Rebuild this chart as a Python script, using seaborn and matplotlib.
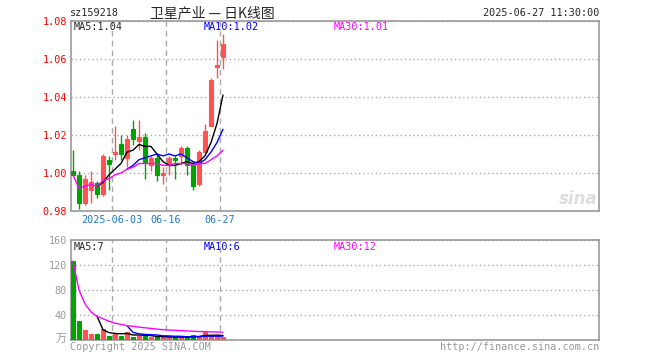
import numpy as np
import matplotlib
matplotlib.use("Agg")
import matplotlib.pyplot as plt
import seaborn as sns

sns.set_style("white")
plt.rcParams["font.family"] = ["DejaVu Sans Mono", "Noto Sans CJK SC"]

# ---------------------------------------------------------------
# datos (26 sesiones, 2025-05-22 .. 2025-06-27)
# ---------------------------------------------------------------
opens = [1.001, 0.999, 0.984, 0.991, 0.995, 0.989, 1.007, 1.010, 1.015, 1.008,
         1.023, 1.017, 1.019, 1.004, 1.008, 0.999, 1.004, 1.008, 1.009, 1.013,
         1.004, 0.994, 1.011, 1.025, 1.056, 1.061]
highs = [1.012, 1.001, 0.999, 1.001, 0.996, 1.010, 1.009, 1.025, 1.020, 1.020,
         1.028, 1.028, 1.021, 1.009, 1.010, 1.003, 1.009, 1.009, 1.014, 1.014,
         1.006, 1.012, 1.026, 1.050, 1.070, 1.073]
lows = [0.999, 0.981, 0.983, 0.984, 0.987, 0.988, 0.991, 1.007, 1.007, 1.003,
        1.015, 1.012, 0.997, 1.001, 0.996, 0.994, 0.999, 0.997, 1.004, 0.999,
        0.991, 0.993, 1.011, 1.025, 1.050, 1.055]
closes = [0.999, 0.984, 0.997, 0.995, 0.989, 1.009, 1.005, 1.011, 1.010, 1.018,
          1.018, 1.019, 1.006, 1.008, 0.999, 1.000, 1.008, 1.007, 1.013, 1.004,
          0.993, 1.011, 1.022, 1.049, 1.057, 1.068]

nan = np.nan
ma5 = [nan, nan, nan, nan, 0.993, 0.995, 0.999, 1.002, 1.005, 1.011, 1.012, 1.015,
       1.014, 1.014, 1.010, 1.006, 1.004, 1.004, 1.005, 1.006, 1.005, 1.006, 1.009,
       1.016, 1.026, 1.041]
ma10 = [nan, nan, nan, nan, nan, nan, nan, nan, nan, 1.002, 1.004, 1.007, 1.008,
        1.009, 1.010, 1.009, 1.010, 1.009, 1.010, 1.008, 1.006, 1.005, 1.007, 1.011,
        1.016, 1.023]
ma30 = [0.999, 0.992, 0.993, 0.994, 0.993, 0.996, 0.997, 0.999, 1.000, 1.002, 1.003,
        1.005, 1.005, 1.005, 1.005, 1.004, 1.004, 1.005, 1.005, 1.005, 1.004, 1.005,
        1.005, 1.007, 1.009, 1.012]

volumes = [126, 30, 16, 9.5, 9.5, 17.5, 6.5, 9.5, 6.5, 12.5, 5, 6.5, 6.5, 5, 4.5,
           4.5, 4.5, 4.5, 5, 4.5, 8, 6, 13, 6, 6, 5]
vma5 = [nan, nan, nan, nan, 38.2, 16.5, 11.8, 10.5, 9.9, 10.5, 8.0, 8.0, 7.4, 7.1,
        5.5, 5.4, 5.0, 4.6, 4.6, 4.6, 5.3, 5.6, 7.3, 7.5, 7.8, 7.2]
vma10 = [nan, nan, nan, nan, nan, nan, nan, nan, nan, 23.0, 12.2, 9.9, 9.0, 8.5,
         8.0, 6.7, 6.5, 6.0, 5.9, 5.1, 5.4, 5.3, 6.0, 6.1, 6.2, 6.3]
vma30 = [126, 80, 58, 45, 38, 34, 30, 27, 25, 23, 22, 20.5, 19.5, 18.5, 17.5, 16.5,
         16, 15.5, 15, 14.5, 14, 13.5, 13.5, 13, 12.8, 12.5]

date_pos = [6.5, 15.5, 24.5]
date_labels = ["2025-06-03", "06-16", "06-27"]
price_ticks = [0.98, 1.00, 1.02, 1.04, 1.06, 1.08]
vol_ticks = [40, 80, 120, 160]

RED = "#ff5252"
GREEN = "#00a300"
GRID = "#aaaaaa"
FS = 7.3

W, H = 660, 360


def box(l, t, r, b):
    return [l / W, 1 - b / H, (r - l) / W, (b - t) / H]


fig = plt.figure(figsize=(W / 100, H / 100), dpi=100)
ax = fig.add_axes(box(71, 21, 599, 211))
axv = fig.add_axes(box(71, 240, 599, 340))

x = np.arange(len(closes))
o = np.array(opens)
c = np.array(closes)
up = c >= o
colors = [RED if u else GREEN for u in up]

# --- velas ---
ax.vlines(x, lows, highs, colors=colors, linewidth=1, zorder=3)
ax.bar(x, np.maximum(np.abs(c - o), 0.0007), bottom=np.minimum(o, c), width=0.72,
       color=colors, edgecolor=colors, linewidth=0.8, zorder=4)
sns.lineplot(x=x, y=ma5, color="black", linewidth=1, ax=ax, zorder=5)
sns.lineplot(x=x, y=ma10, color="#0000ff", linewidth=1, ax=ax, zorder=5)
sns.lineplot(x=x, y=ma30, color="#ff00ff", linewidth=1, ax=ax, zorder=5)

# --- volumen ---
sns.barplot(x=x, y=volumes, hue=["up" if u else "down" for u in up],
            palette={"up": RED, "down": GREEN}, dodge=False, native_scale=True,
            width=0.72, saturation=1, legend=False, linewidth=0.8, ax=axv, zorder=3)
for p in axv.patches:
    p.set_edgecolor(p.get_facecolor())
sns.lineplot(x=x, y=vma5, color="black", linewidth=1, ax=axv, zorder=5)
sns.lineplot(x=x, y=vma10, color="#0000ff", linewidth=1, ax=axv, zorder=5)
sns.lineplot(x=x, y=vma30, color="#ff00ff", linewidth=1, ax=axv, zorder=5)

for a in (ax, axv):
    a.set_xlim(-0.33, 87.67)
    a.set_xticks(date_pos)
    a.grid(axis="x", color=GRID, linestyle=(0, (4, 3)), linewidth=1)
    a.grid(axis="y", color=GRID, linestyle=(0, (1, 2)), linewidth=1)
    a.set_axisbelow(True)
    a.set_xlabel("")
    a.set_ylabel("")
    for s in a.spines.values():
        s.set_color("#999999")
        s.set_linewidth(1.2)

ax.set_ylim(0.98, 1.08)
ax.set_yticks(price_ticks)
ax.set_yticklabels([f"{t:.2f}" for t in price_ticks], color="red", fontsize=FS)
ax.set_xticklabels(date_labels, color="#2277cc", fontsize=FS)
ax.tick_params(axis="both", length=0, pad=3)

axv.set_ylim(0, 160)
axv.set_yticks(vol_ticks)
axv.set_yticklabels([str(t) for t in vol_ticks], color="#999999", fontsize=FS)
axv.set_xticklabels([])
axv.tick_params(axis="both", length=0, pad=3)

# --- textos ---
def ftext(px, py, s, **kw):
    kw.setdefault("fontsize", FS)
    kw.setdefault("va", "center")
    fig.text(px / W, 1 - py / H, s, **kw)


ftext(70, 13, "sz159218")
ftext(150, 13, "卫星产业 — 日K线图", fontsize=10,
      family=["Noto Sans CJK SC", "DejaVu Sans"])
ftext(599, 13, "2025-06-27 11:30:00", ha="right")

ftext(74, 27, "MA5:1.04")
ftext(204, 27, "MA10:1.02", color="#0000ff")
ftext(334, 27, "MA30:1.01", color="#ff00ff")
ftext(74, 247, "MA5:7")
ftext(204, 247, "MA10:6", color="#0000ff")
ftext(334, 247, "MA30:12", color="#ff00ff")

ftext(67, 339, "万", ha="right", color="#999999", fontsize=8,
      family=["Noto Sans CJK SC", "DejaVu Sans"])
ftext(70, 347, "Copyright 2025 SINA.COM", color="#999999")
ftext(599, 347, "http://finance.sina.com.cn", ha="right", color="#999999")
ftext(598, 199, "sina", ha="right", color="#dddddd", fontsize=12,
      fontweight="bold", style="italic", family=["DejaVu Sans"])

fig.savefig("out.png", dpi=100)
